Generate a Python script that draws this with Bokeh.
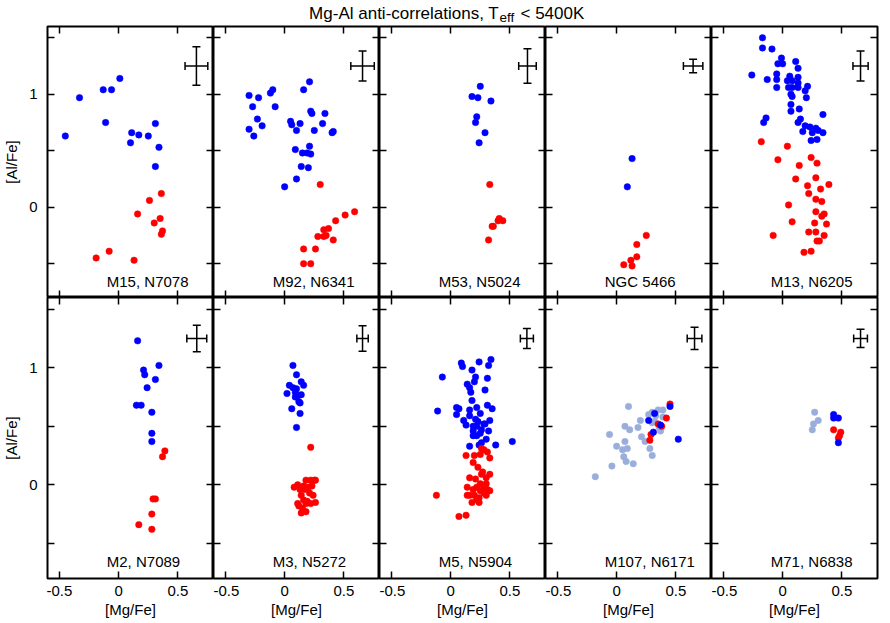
from bokeh.plotting import figure
from bokeh.models import Range1d, LinearAxis, FixedTicker, Whisker, TeeHead, ColumnDataSource, Label
from bokeh.layouts import gridplot, column
from bokeh.embed import file_html
from bokeh.resources import INLINE

FONT = "Liberation Sans"
BLUE = "#0000ff"
RED = "#ff0000"
LIGHT = "#9aaedc"

title_main = "Mg-Al anti-correlations, T"
title_sub = "eff"
title_tail = "< 5400K"
x_label = "[Mg/Fe]"
y_label = "[Al/Fe]"

cluster_names = ["M15, N7078", "M92, N6341", "M53, N5024", "NGC 5466", "M13, N6205",
                 "M2, N7089", "M3, N5272", "M5, N5904", "M107, N6171", "M71, N6838"]

x_ticks = [-0.5, 0, 0.5]
x_tick_labels = ["-0.5", "0", "0.5"]
y_ticks = [0, 1]
y_tick_labels = ["0", "1"]
y_minor_ticks = [-0.5, 0.5, 1.5]

# ---- data: [Mg/Fe] and [Al/Fe] ----
m15_blue_mg = [-0.45, -0.33, -0.13, -0.06, 0.01, -0.11, 0.11, 0.17, 0.10, 0.25, 0.31, 0.34, 0.31]
m15_blue_al = [0.63, 0.97, 1.04, 1.04, 1.14, 0.75, 0.66, 0.64, 0.57, 0.63, 0.74, 0.53, 0.36]
m15_red_mg = [0.36, 0.26, 0.16, 0.30, 0.35, 0.37, 0.36, -0.19, -0.08, 0.13]
m15_red_al = [0.12, 0.06, -0.06, -0.14, -0.10, -0.21, -0.24, -0.45, -0.39, -0.47]

m92_blue_mg = [-0.30, -0.22, -0.27, -0.12, -0.10, -0.08, -0.23, -0.19, -0.30, -0.26, 0.16, 0.21,
               0.22, 0.23, 0.34, 0.32, 0.05, 0.06, 0.13, 0.10, 0.25, 0.40, 0.41, 0.21, 0.09, 0.15,
               0.19, 0.22, 0.14, 0.20, 0.10, 0.00]
m92_blue_al = [0.99, 0.97, 0.89, 1.01, 1.04, 0.89, 0.78, 0.72, 0.69, 0.63, 1.04, 1.11,
               0.85, 0.83, 0.83, 0.74, 0.76, 0.73, 0.74, 0.68, 0.68, 0.66, 0.67, 0.54, 0.51, 0.48,
               0.48, 0.47, 0.36, 0.35, 0.25, 0.18]
m92_red_mg = [0.30, 0.59, 0.51, 0.43, 0.37, 0.33, 0.35, 0.28, 0.33, 0.41, 0.26, 0.16, 0.16, 0.22]
m92_red_al = [0.20, -0.04, -0.07, -0.12, -0.19, -0.20, -0.25, -0.26, -0.26, -0.29, -0.37, -0.37, -0.50, -0.50]

m53_blue_mg = [0.25, 0.18, 0.23, 0.34, 0.22, 0.21, 0.29, 0.24]
m53_blue_al = [1.07, 0.98, 0.97, 0.94, 0.80, 0.75, 0.66, 0.57]
m53_red_mg = [0.33, 0.41, 0.44, 0.40, 0.36, 0.35, 0.32]
m53_red_al = [0.20, -0.10, -0.12, -0.12, -0.17, -0.17, -0.29]

n5466_blue_mg = [0.13, 0.09]
n5466_blue_al = [0.43, 0.18]
n5466_red_mg = [0.25, 0.17, 0.17, 0.12, 0.06, 0.13]
n5466_red_al = [-0.25, -0.33, -0.44, -0.47, -0.51, -0.52]

m13_blue_mg = [-0.17, -0.17, -0.09, -0.01, -0.04, 0.00, 0.11, 0.13, -0.26, -0.05,
               -0.13, -0.05, 0.06, 0.13, 0.04, 0.08, 0.13, -0.05, 0.05, 0.08,
               0.13, 0.21, 0.19, 0.07, 0.08, 0.20, 0.07, 0.14, 0.07, 0.34,
               -0.14, -0.16, 0.15, 0.13, 0.19, 0.23, 0.28, 0.30, 0.17, 0.25,
               0.34, 0.24, 0.29]
m13_blue_al = [1.50, 1.41, 1.40, 1.32, 1.27, 1.27, 1.29, 1.23, 1.17, 1.18,
               1.13, 1.13, 1.16, 1.15, 1.12, 1.12, 1.10, 1.06, 1.06, 1.06,
               1.06, 1.07, 1.03, 1.00, 0.98, 0.97, 0.91, 0.87, 0.85, 0.82,
               0.79, 0.75, 0.78, 0.75, 0.72, 0.71, 0.70, 0.68, 0.67, 0.66,
               0.66, 0.59, 0.60]
m13_red_mg = [-0.18, 0.04, -0.04, 0.14, 0.24, 0.29, 0.11, 0.28, 0.21, 0.32,
              0.39, 0.22, 0.28, 0.33, 0.05, 0.28, 0.35, 0.33, 0.08, 0.27,
              0.37, -0.08, 0.22, 0.28, 0.35, 0.29, 0.31, 0.18, 0.24]
m13_red_al = [0.58, 0.54, 0.42, 0.37, 0.44, 0.39, 0.25, 0.26, 0.19, 0.16,
              0.20, 0.12, 0.07, 0.05, 0.02, -0.04, -0.06, -0.08, -0.13, -0.14,
              -0.15, -0.25, -0.22, -0.22, -0.25, -0.30, -0.30, -0.40, -0.39]

m2_blue_mg = [0.16, 0.21, 0.22, 0.34, 0.31, 0.24, 0.15, 0.19, 0.28, 0.28, 0.28]
m2_blue_al = [1.23, 0.98, 0.94, 1.02, 0.90, 0.83, 0.68, 0.68, 0.62, 0.44, 0.37]
m2_red_mg = [0.39, 0.37, 0.29, 0.31, 0.28, 0.17, 0.28]
m2_red_al = [0.29, 0.24, -0.12, -0.12, -0.25, -0.34, -0.38]

m3_blue_mg = [0.07, 0.10, 0.04, 0.07, 0.14, 0.16, 0.02, 0.09, 0.14, 0.09, 0.12, 0.13, 0.06,
              0.13, 0.10, 0.10, 0.11]
m3_blue_al = [1.02, 0.94, 0.85, 0.83, 0.88, 0.85, 0.78, 0.79, 0.77, 0.75, 0.71, 0.70, 0.65,
              0.61, 0.49, 0.82, 0.76]
m3_red_mg = [0.22, 0.08, 0.11, 0.18, 0.22, 0.25, 0.26, 0.13, 0.17, 0.21, 0.24, 0.14, 0.16,
             0.19, 0.22, 0.26, 0.12, 0.15, 0.18, 0.14, 0.18, 0.11, 0.20, 0.23, 0.16]
m3_red_al = [0.32, -0.02, 0.00, 0.04, 0.04, 0.04, 0.04, -0.04, -0.04, -0.07, -0.09, -0.09, -0.13,
             -0.14, -0.16, -0.15, -0.18, -0.20, -0.16, -0.24, -0.23, -0.16, -0.02, -0.01, -0.01]

m5_blue_mg = [0.09, 0.10, 0.24, 0.34, 0.32, 0.18, -0.07, 0.21, 0.20, 0.31,
              0.14, 0.16, 0.29, 0.17, 0.18, 0.05, 0.07, 0.31, 0.35, -0.11,
              0.16, 0.22, 0.05, 0.16, 0.25, 0.21, 0.11, 0.23, 0.28, 0.33,
              0.13, 0.19, 0.22, 0.29, 0.19, 0.26, 0.32, 0.25, 0.19, 0.30,
              0.26, 0.24, 0.16, 0.38, 0.52, 0.22]
m5_blue_al = [1.04, 1.01, 1.05, 1.07, 1.02, 0.98, 0.92, 0.92, 0.88, 0.91,
              0.86, 0.83, 0.81, 0.79, 0.72, 0.66, 0.65, 0.68, 0.65, 0.63,
              0.64, 0.66, 0.60, 0.59, 0.61, 0.56, 0.55, 0.54, 0.52, 0.55,
              0.51, 0.50, 0.50, 0.52, 0.46, 0.47, 0.46, 0.44, 0.42, 0.39,
              0.36, 0.34, 0.33, 0.34, 0.37, 0.42]
m5_red_mg = [0.26, 0.28, 0.31, 0.25, 0.33, 0.13, 0.20, 0.19, 0.23, 0.27,
             0.33, 0.26, 0.30, 0.16, 0.21, 0.25, 0.30, 0.22, 0.28, 0.14,
             0.19, 0.31, 0.25, 0.16, 0.20, 0.30, 0.24, 0.22, 0.18, 0.24,
             -0.12, 0.07, 0.13, 0.14, 0.28, 0.33]
m5_red_al = [0.31, 0.30, 0.28, 0.26, 0.23, 0.25, 0.25, 0.19, 0.15, 0.11,
             0.09, 0.09, 0.06, 0.06, 0.05, 0.01, 0.01, -0.02, -0.02, -0.02,
             -0.04, -0.04, -0.05, -0.09, -0.09, -0.09, -0.11, -0.13, -0.15, -0.15,
             -0.09, -0.27, -0.26, -0.09, -0.07, -0.05]

m107_light_mg = [0.10, 0.07, 0.11, -0.06, 0.07, 0.00, 0.05, 0.09, 0.06, 0.08, 0.14, -0.04, -0.18,
                 0.18, 0.20, 0.27, 0.30, 0.35, 0.39, 0.33, 0.39, 0.32, 0.37, 0.21, 0.24, 0.28,
                 0.30, 0.36, 0.30]
m107_light_al = [0.67, 0.50, 0.47, 0.43, 0.37, 0.33, 0.30, 0.31, 0.24, 0.20, 0.18, 0.16, 0.07,
                 0.49, 0.55, 0.60, 0.62, 0.64, 0.64, 0.59, 0.58, 0.54, 0.46, 0.41, 0.37, 0.31,
                 0.25, 0.49, 0.53]
m107_red_mg = [0.45, 0.42, 0.35, 0.38, 0.29, 0.28]
m107_red_al = [0.69, 0.57, 0.52, 0.50, 0.43, 0.38]
m107_blue_mg = [0.45, 0.32, 0.27, 0.37, 0.31, 0.52]
m107_blue_al = [0.67, 0.61, 0.55, 0.51, 0.45, 0.39]

m71_light_mg = [0.27, 0.30, 0.26, 0.25]
m71_light_al = [0.62, 0.55, 0.52, 0.47]
m71_red_mg = [0.43, 0.49, 0.48, 0.47]
m71_red_al = [0.47, 0.45, 0.42, 0.40]
m71_blue_mg = [0.43, 0.43, 0.47, 0.47]
m71_blue_al = [0.60, 0.57, 0.57, 0.36]

# typical error bars per panel
err_mg = [0.656, 0.657, 0.648, 0.645, 0.657, 0.659, 0.657, 0.643, 0.657, 0.657]
err_mg_e = [0.096, 0.099, 0.074, 0.082, 0.064, 0.084, 0.048, 0.055, 0.062, 0.058]
err_al = [1.25, 1.25, 1.25, 1.25, 1.25, 1.25, 1.25, 1.25, 1.25, 1.25]
err_al_e = [0.17, 0.132, 0.152, 0.06, 0.132, 0.113, 0.109, 0.085, 0.095, 0.078]

panel_series = [
    [(m15_blue_mg, m15_blue_al, BLUE), (m15_red_mg, m15_red_al, RED)],
    [(m92_blue_mg, m92_blue_al, BLUE), (m92_red_mg, m92_red_al, RED)],
    [(m53_blue_mg, m53_blue_al, BLUE), (m53_red_mg, m53_red_al, RED)],
    [(n5466_blue_mg, n5466_blue_al, BLUE), (n5466_red_mg, n5466_red_al, RED)],
    [(m13_blue_mg, m13_blue_al, BLUE), (m13_red_mg, m13_red_al, RED)],
    [(m2_blue_mg, m2_blue_al, BLUE), (m2_red_mg, m2_red_al, RED)],
    [(m3_blue_mg, m3_blue_al, BLUE), (m3_red_mg, m3_red_al, RED)],
    [(m5_blue_mg, m5_blue_al, BLUE), (m5_red_mg, m5_red_al, RED)],
    [(m107_light_mg, m107_light_al, LIGHT), (m107_red_mg, m107_red_al, RED),
     (m107_blue_mg, m107_blue_al, BLUE)],
    [(m71_light_mg, m71_light_al, LIGHT), (m71_red_mg, m71_red_al, RED),
     (m71_blue_mg, m71_blue_al, BLUE)],
]

FRAME_W = 166
FRAME_H = [271, 281]
TITLE_H = 25
LEFT = 47
RIGHT = 3


def make_axis(ticker, show_labels, overrides=None, label=None, standoff=7, label_standoff=2):
    ax = LinearAxis(ticker=ticker, axis_line_color=None,
                    major_tick_in=7, major_tick_out=0, minor_tick_in=7, minor_tick_out=0,
                    major_tick_line_width=1.5, minor_tick_line_width=1.5,
                    major_tick_line_color="black", minor_tick_line_color="black")
    if show_labels:
        ax.major_label_text_font = FONT
        ax.major_label_text_font_size = "15px"
        ax.major_label_text_color = "black"
        ax.major_label_standoff = standoff
        if overrides:
            ax.major_label_overrides = overrides
    else:
        ax.major_label_text_font_size = "0px"
        ax.major_label_text_color = None
        ax.major_label_standoff = 0
    if label:
        ax.axis_label = label
        ax.axis_label_text_font = FONT
        ax.axis_label_text_font_size = "15px"
        ax.axis_label_text_font_style = "normal"
        ax.axis_label_text_color = "black"
        ax.axis_label_standoff = label_standoff
    return ax


panels = []
for i in range(10):
    r, c = divmod(i, 5)
    p = figure(frame_width=FRAME_W, frame_height=FRAME_H[r], title=None,
               x_range=Range1d(-0.6, 0.8), y_range=Range1d(-0.8, 1.6),
               x_axis_location=None, y_axis_location=None,
               toolbar_location=None, output_backend="svg",
               min_border=0,
               min_border_left=LEFT if c == 0 else 0,
               min_border_right=RIGHT if c == 4 else 0,
               min_border_top=1 if r == 0 else 0,
               outline_line_color="black", outline_line_width=2,
               background_fill_color="white", border_fill_color="white")
    p.grid.visible = False

    xo = dict(zip(x_ticks, x_tick_labels))
    yo = dict(zip(y_ticks, y_tick_labels))

    p.add_layout(make_axis(FixedTicker(ticks=y_ticks, minor_ticks=y_minor_ticks), c == 0, yo,
                           y_label if c == 0 else None, standoff=10, label_standoff=6), "left")
    p.add_layout(make_axis(FixedTicker(ticks=y_ticks, minor_ticks=y_minor_ticks), False), "right")
    p.add_layout(make_axis(FixedTicker(ticks=x_ticks, minor_ticks=[]), False), "above")
    p.add_layout(make_axis(FixedTicker(ticks=x_ticks, minor_ticks=[]), r == 1, xo,
                           x_label if r == 1 else None, standoff=7, label_standoff=2), "below")

    for mg, al, col in panel_series[i]:
        p.scatter(x=mg, y=al, size=6.5, fill_color=col, line_color=col, line_width=0.5)

    src = ColumnDataSource(dict(
        x=[err_mg[i]], y=[err_al[i]],
        xl=[err_mg[i] - err_mg_e[i]], xu=[err_mg[i] + err_mg_e[i]],
        yl=[err_al[i] - err_al_e[i]], yu=[err_al[i] + err_al_e[i]]))
    p.add_layout(Whisker(source=src, base="x", lower="yl", upper="yu", dimension="height",
                         line_color="black", line_width=1.5,
                         lower_head=TeeHead(size=8, line_width=1.5, line_color="black"),
                         upper_head=TeeHead(size=8, line_width=1.5, line_color="black")))
    p.add_layout(Whisker(source=src, base="y", lower="xl", upper="xu", dimension="width",
                         line_color="black", line_width=1.5,
                         lower_head=TeeHead(size=8, line_width=1.5, line_color="black"),
                         upper_head=TeeHead(size=8, line_width=1.5, line_color="black")))

    p.add_layout(Label(x=-0.1, y=-0.657, text=cluster_names[i], text_font=FONT,
                       text_font_size="15px", text_color="black",
                       text_align="left", text_baseline="middle"))
    panels.append(p)

TOTAL_W = LEFT + 5 * FRAME_W + RIGHT
tp = figure(frame_width=TOTAL_W, frame_height=TITLE_H, title=None,
            x_range=Range1d(0, TOTAL_W), y_range=Range1d(TITLE_H, 0),
            x_axis_location=None, y_axis_location=None, toolbar_location=None,
            output_backend="svg", min_border=0, outline_line_color=None)
tp.grid.visible = False
tp.add_layout(Label(x=498.5, y=13.4, text=title_main, text_font=FONT, text_font_size="17px",
                    text_color="black", text_align="right", text_baseline="middle"))
tp.add_layout(Label(x=499, y=17.3, text=title_sub, text_font=FONT, text_font_size="13.5px",
                    text_color="black", text_align="left", text_baseline="middle"))
tp.add_layout(Label(x=520, y=13.4, text=title_tail, text_font=FONT, text_font_size="17px",
                    text_color="black", text_align="left", text_baseline="middle"))

grid = gridplot([panels[:5], panels[5:]], toolbar_location=None)
layout = column(tp, grid)

open("out.html", "w").write(file_html(layout, INLINE))
